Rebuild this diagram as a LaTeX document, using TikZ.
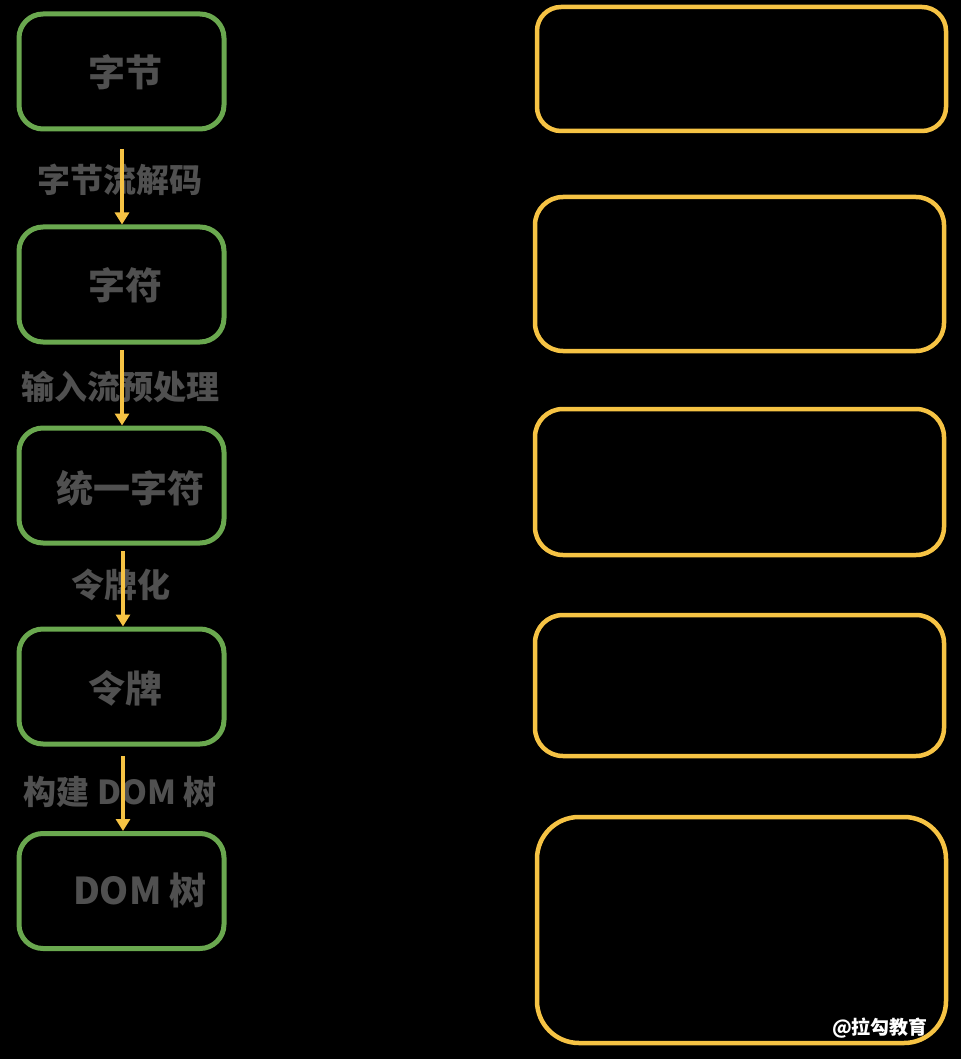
\documentclass[tikz,border=0pt]{standalone}
\usepackage{fontspec}
\newfontfamily\cjk{Noto Sans CJK SC}
\usetikzlibrary{arrows.meta}
\definecolor{gbox}{HTML}{6AA84F}
\definecolor{ybox}{HTML}{F6C344}
\definecolor{txt}{HTML}{505050}
\tikzset{
  x=1pt,y=-1pt,
  gnode/.style={draw=gbox,line width=5pt,rounded corners=24pt,minimum width=205pt,minimum height=115pt,inner sep=0pt},
  ynode/.style={draw=ybox,line width=4.5pt,inner sep=0pt},
  blabel/.style={text=txt,font=\cjk\bfseries\fontsize{37}{42}\selectfont},
  alabel/.style={text=txt,font=\cjk\bfseries\fontsize{33}{38}\selectfont},
  flow/.style={draw=ybox,line width=3.5pt,-{Triangle[length=12pt,width=14pt]}}
}
\begin{document}
\begin{tikzpicture}
\fill[black] (0,0) rectangle (961,1059);
\useasboundingbox (0,0) rectangle (961,1059);
% left boxes
\node[gnode] (b1) at (121.5,71.5) {};
\node[gnode] (b2) at (121.5,284.5) {};
\node[gnode] (b3) at (121.5,485.5) {};
\node[gnode] (b4) at (121.5,686.5) {};
\node[gnode] (b5) at (121.5,891) {};
\node[blabel] (t1) at (125,72) {字节};
\node[blabel] (t2) at (125,285) {字符};
\node[blabel] (t3) at (130,488) {统一字符};
\node[blabel] (t4) at (125,688) {令牌};
\node[blabel] (t5) at (140,890) {DOM 树};
% edge labels
\node[alabel] (l1) at (120,180) {字节流解码};
\node[alabel] (l2) at (120,387) {输入流预处理};
\node[alabel] (l3) at (121,585) {令牌化};
\node[alabel] (l4) at (120,792) {构建 DOM 树};
% arrows
\coordinate (s1) at (122,149);
\coordinate (s2) at (122,350);
\coordinate (s3) at (123,551);
\coordinate (s4) at (123,756);
\draw[flow] (s1) -- (b2.north -| s1);
\draw[flow] (s2) -- (b3.north -| s2);
\draw[flow] (s3) -- (b4.north -| s3);
\draw[flow] (s4) -- (b5.north -| s4);
% right boxes
\draw[ynode,rounded corners=24pt] (537,7) rectangle (946,131);
\draw[ynode,rounded corners=28pt] (535,197) rectangle (944,351);
\draw[ynode,rounded corners=28pt] (535,409) rectangle (944,555);
\draw[ynode,rounded corners=28pt] (535,615) rectangle (944,756);
\draw[ynode,rounded corners=42pt] (537,817) rectangle (946,1043);
\node[text=white,font=\cjk\bfseries\fontsize{19}{22}\selectfont] (wm) at (880,1028) {@拉勾教育};
\end{tikzpicture}
\end{document}
